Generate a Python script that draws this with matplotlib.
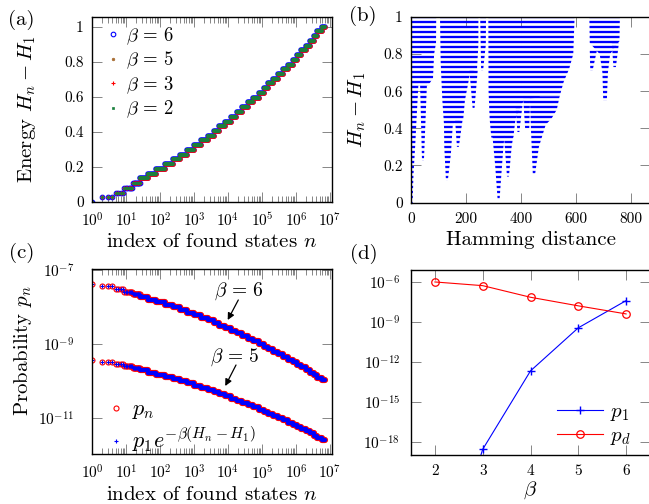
import numpy as np
import matplotlib
matplotlib.use("Agg")
import matplotlib.pyplot as plt
from matplotlib.collections import LineCollection
from matplotlib.patches import Polygon
import matplotlib.ticker as mticker

plt.rcParams.update({
    "font.family": "serif",
    "font.serif": ["cmr10"],
    "mathtext.fontset": "cm",
    "axes.unicode_minus": False,
    "axes.formatter.use_mathtext": True,
})

# ---------------- data ----------------
# discrete energy levels H_n - H_1 (one per step of the staircase)
energy_levels = [0.000, 0.027, 0.054, 0.081, 0.108, 0.135, 0.162, 0.189, 0.216, 0.243,
                 0.270, 0.297, 0.324, 0.351, 0.378, 0.405, 0.432, 0.459, 0.486, 0.514,
                 0.541, 0.568, 0.595, 0.622, 0.649, 0.676, 0.703, 0.730, 0.757, 0.784,
                 0.811, 0.838, 0.865, 0.892, 0.919, 0.946, 0.973, 1.000]
# log10 of the first state index n that has each energy level
step_log10_first = [0.00, 0.30, 0.70, 0.95, 1.20, 1.41, 1.65, 1.89, 2.14, 2.38,
                    2.59, 2.80, 3.01, 3.22, 3.40, 3.59, 3.75, 3.92, 4.09, 4.25,
                    4.42, 4.59, 4.75, 4.90, 5.05, 5.19, 5.33, 5.47, 5.62, 5.76,
                    5.90, 6.03, 6.16, 6.29, 6.40, 6.52, 6.63, 6.76]
log10_last_index = 6.86
betas_a = [6, 5, 3, 2]

# panel (d)
beta_d = [2, 3, 4, 5, 6]
p1_d = [1e-30, 2.8e-19, 2.2e-13, 3.8e-10, 4.2e-8]
pd_d = [1.06e-6, 5.6e-7, 7.5e-8, 1.7e-8, 4.2e-9]

# panel (c): betas shown
betas_c = [6, 5]

# panel (b): regions (Hamming distance, energy) where found states lie
basins_b = [
    [(-5, -0.05), (5, -0.05), (9, 0.15), (15, 0.3), (22, 0.5), (27, 0.64), (-5, 0.64)],
    [(40, 0.225), (47, 0.225), (58, 0.64), (33, 0.64)],
    [(-5, 0.63), (62, 0.63), (80, 0.67), (84, 0.8), (91, 0.86), (92, 1.05), (-5, 1.05)],
    [(127, 0.12), (134, 0.12), (145, 0.26), (152, 0.42), (120, 0.42), (121, 0.3)],
    [(167, 0.30), (174, 0.30), (188, 0.45), (160, 0.45)],
    [(120, 0.42), (152, 0.42), (190, 0.45), (196, 0.55), (205, 0.62), (215, 0.7), (240, 0.72),
     (245, 0.85), (245, 1.05), (105, 1.05), (108, 0.75), (114, 0.55)],
    [(224, 0.51), (231, 0.51), (243, 0.72), (212, 0.72)],
    [(255, 0.71), (262, 0.71), (272, 0.85), (273, 1.05), (251, 1.05)],
    [(315, 0.015), (322, 0.015), (330, 0.18), (336, 0.3), (340, 0.36), (296, 0.36), (306, 0.2)],
    [(349, 0.14), (356, 0.14), (366, 0.3), (372, 0.36), (338, 0.36)],
    [(387, 0.38), (394, 0.38), (405, 0.52), (380, 0.52)],
    [(415, 0.40), (430, 0.40), (433, 0.56), (408, 0.56)],
    [(292, 0.35), (372, 0.35), (380, 0.45), (395, 0.5), (410, 0.55), (470, 0.57), (540, 0.57),
     (555, 0.65), (575, 0.72), (590, 0.8), (596, 1.05), (281, 1.05), (282, 0.6), (286, 0.45)],
    [(443, 0.15), (451, 0.15), (465, 0.3), (490, 0.42), (510, 0.45), (530, 0.5), (540, 0.57),
     (432, 0.57), (436, 0.4)],
    [(699, 0.55), (712, 0.55), (716, 0.7), (724, 0.8), (758, 0.87), (760, 1.05), (648, 1.05),
     (650, 0.86), (686, 0.8), (696, 0.7)],
    [(652, 0.71), (660, 0.71), (676, 0.82), (650, 0.82)],
    [(736, 0.73), (745, 0.73), (756, 0.86), (730, 0.86)],
]

# ---------------- helpers ----------------
W, H = 649, 504
PT = 0.72  # points per pixel at 100 dpi
fig = plt.figure(figsize=(W / 100, H / 100), dpi=100)


def add_ax(l, t, r, b):
    return fig.add_axes([l / W, 1 - b / H, (r - l) / W, (b - t) / H])


TICK_C = "0.45"
LBL = 15
TL = 11


def style_ticks(ax):
    ax.tick_params(which="major", direction="in", top=True, right=True, length=7,
                   width=0.6, color=TICK_C, labelsize=TL)
    ax.tick_params(which="minor", direction="in", top=True, right=True, length=4.3,
                   width=0.6, color=TICK_C)
    for s in ax.spines.values():
        s.set_linewidth(1.0)
        s.set_color("black")


first_n = [int(round(10 ** b)) for b in step_log10_first]
last_n = [f - 1 for f in first_n[1:]] + [int(round(10 ** log10_last_index))]


def step_parts(values):
    """split the staircase into individual markers (small ranges) and segments"""
    pts_x, pts_y, segs = [], [], []
    for f, l, v in zip(first_n, last_n, values):
        if l - f < 12:
            for n in range(f, l + 1):
                pts_x.append(n)
                pts_y.append(v)
        else:
            segs.append([(f, v), (l, v)])
    return pts_x, pts_y, segs


# ---------------- panel (a) ----------------
axA = add_ax(92, 16.7, 331.7, 202)
styles_a = {
    6: dict(color="#0000ff", marker="o", mfc="none", ms=4.6 * PT, mew=0.8, seg=5.6),
    5: dict(color="#a66a2e", marker="o", mfc="#a66a2e", ms=2.6 * PT, mew=0.5, seg=3.0),
    3: dict(color="#ff0000", marker="+", mfc="none", ms=4.2 * PT, mew=0.8, seg=4.7),
    2: dict(color="#1a7f3c", marker="s", mfc="#1a7f3c", ms=2.8 * PT, mew=0.5, seg=4.1),
}
handles_a = []
px, py, segs = step_parts(energy_levels)
for b in betas_a:
    st = styles_a[b]
    lc = LineCollection(segs, colors=st["color"], linewidths=st["seg"] * PT, capstyle="round")
    axA.add_collection(lc)
    h, = axA.plot(px, py, linestyle="none", marker=st["marker"], color=st["color"],
                  mfc=st["mfc"], mec=st["color"], ms=st["ms"], mew=st["mew"],
                  label=r"$\beta\,=\,%d$" % b)
    handles_a.append(h)
axA.set_xscale("log")
axA.set_xlim(1, 10 ** 7.05)
axA.set_ylim(0, 1.057)
axA.set_xticks([10 ** k for k in range(8)], [r"$10^{%d}$" % k for k in range(8)])
axA.xaxis.set_minor_locator(mticker.LogLocator(base=10, subs=np.arange(2, 10), numticks=100))
axA.xaxis.set_minor_formatter(mticker.NullFormatter())
axA.set_yticks([0, 0.2, 0.4, 0.6, 0.8, 1.0], ["0", "0.2", "0.4", "0.6", "0.8", "1"])
style_ticks(axA)
axA.tick_params(axis="y", pad=6)
axA.tick_params(axis="x", pad=7)
axA.set_xlabel(r"index of found states $n$", fontsize=LBL)
axA.xaxis.set_label_coords(0.5, -0.165)
axA.set_ylabel(r"Energy $H_n - H_1$", fontsize=LBL)
axA.yaxis.set_label_coords(-0.225, 0.50)
axA.legend(handles=handles_a, loc="upper left", bbox_to_anchor=(0.0, 1.025), frameon=False,
           fontsize=13.5, handlelength=0.8, handletextpad=0.3, labelspacing=0.16,
           borderaxespad=0.3, markerscale=1.0)

# ---------------- panel (b) ----------------
axB = add_ax(411, 17, 650, 202.5)
row_segs = [[(-20, e), (900, e)] for e in energy_levels]
for poly in basins_b:
    patch = Polygon(poly, closed=True, transform=axB.transData)
    lc = LineCollection(row_segs, colors="#0000ff", linewidths=2.3 * PT, capstyle="butt")
    axB.add_collection(lc)
    lc.set_clip_path(patch)
axB.set_xlim(0, 869)
axB.set_ylim(0, 1)
axB.set_xticks([0, 200, 400, 600, 800], ["0", "200", "400", "600", "800"])
axB.set_yticks([0, 0.2, 0.4, 0.6, 0.8, 1.0], ["0", "0.2", "0.4", "0.6", "0.8", "1"])
style_ticks(axB)
axB.tick_params(axis="y", pad=6)
axB.tick_params(axis="x", pad=7)
axB.set_xlabel("Hamming distance", fontsize=LBL)
axB.xaxis.set_label_coords(0.5, -0.152)
axB.set_ylabel(r"$H_n - H_1$", fontsize=LBL)
axB.yaxis.set_label_coords(-0.18, 0.5)

# ---------------- panel (c) ----------------
axC = add_ax(92, 269, 331.7, 454.3)
p1_of_beta = dict(zip(beta_d, p1_d))
h_pn = h_fit = None
for b in betas_c:
    vals = [p1_of_beta[b] * np.exp(-b * e) for e in energy_levels]
    px, py, segs = step_parts(vals)
    lc = LineCollection(segs, colors="#ff0000", linewidths=6.2 * PT, capstyle="round")
    axC.add_collection(lc)
    h1, = axC.plot(px, py, linestyle="none", marker="o", mfc="none", mec="#ff0000",
                   ms=5.0 * PT, mew=0.8, label=r"$p_n$")
    lc2 = LineCollection(segs, colors="#0000ff", linewidths=4.2 * PT, capstyle="round")
    axC.add_collection(lc2)
    h2, = axC.plot(px, py, linestyle="none", marker="+", color="#0000ff",
                   ms=4.0 * PT, mew=0.8, label=r"$p_1e^{-\beta(H_n-H_1)}$")
    h_pn, h_fit = h1, h2
axC.set_xscale("log")
axC.set_yscale("log")
axC.set_xlim(1, 10 ** 7.05)
axC.set_ylim(1.05e-12, 1.06e-7)
axC.set_xticks([10 ** k for k in range(8)], [r"$10^{%d}$" % k for k in range(8)])
axC.xaxis.set_minor_locator(mticker.LogLocator(base=10, subs=np.arange(2, 10), numticks=100))
axC.xaxis.set_minor_formatter(mticker.NullFormatter())
axC.set_yticks([1e-11, 1e-9, 1e-7], [r"$10^{-11}$", r"$10^{-9}$", r"$10^{-7}$"])
axC.yaxis.set_minor_locator(mticker.NullLocator())
style_ticks(axC)
axC.tick_params(axis="y", pad=13)
axC.tick_params(axis="x", pad=7)
axC.set_xlabel(r"index of found states $n$", fontsize=LBL)
axC.xaxis.set_label_coords(0.5, -0.172)
axC.set_ylabel(r"Probability $p_n$", fontsize=LBL)
axC.yaxis.set_label_coords(-0.24, 0.56)
axC.legend(handles=[h_pn, h_fit], loc="lower left", bbox_to_anchor=(0.0, -0.085), frameon=False,
           fontsize=16, handlelength=0.8, handletextpad=0.3, labelspacing=0.2,
           borderaxespad=0.3)
# annotations: text and arrows
axC.text(2.02e4, 2.59e-8, r"$\beta\,=\,6$", fontsize=14, ha="center", va="center")
axC.annotate("", xy=(9.8e3, 4.45e-9), xytext=(2.01e4, 1.545e-8),
             arrowprops=dict(arrowstyle="-|>", color="k", lw=0.9, mutation_scale=10,
                             shrinkA=0, shrinkB=0))
axC.text(1.61e4, 4.46e-10, r"$\beta\,=\,5$", fontsize=14, ha="center", va="center")
axC.annotate("", xy=(8.3e3, 7.33e-11), xytext=(1.72e4, 2.71e-10),
             arrowprops=dict(arrowstyle="-|>", color="k", lw=0.9, mutation_scale=10,
                             shrinkA=0, shrinkB=0))

# ---------------- panel (d) ----------------
axD = add_ax(411, 270, 650, 455)
axD.plot(beta_d, p1_d, color="#0000ff", lw=0.8, marker="+", ms=8 * PT, mew=1.0, label=r"$p_1$")
axD.plot(beta_d, pd_d, color="#ff0000", lw=0.8, marker="o", mfc="none", ms=7.5 * PT, mew=0.9,
         label=r"$p_d$")
axD.set_yscale("log")
axD.set_xlim(1.5, 6.5)
axD.set_ylim(1.05e-19, 8.4e-6)
axD.set_xticks([2, 3, 4, 5, 6], ["2", "3", "4", "5", "6"])
axD.set_yticks([1e-18, 1e-15, 1e-12, 1e-9, 1e-6],
               [r"$10^{-18}$", r"$10^{-15}$", r"$10^{-12}$", r"$10^{-9}$", r"$10^{-6}$"])
axD.yaxis.set_minor_locator(mticker.NullLocator())
style_ticks(axD)
axD.tick_params(axis="y", pad=8)
axD.tick_params(axis="x", pad=7)
axD.set_xlabel(r"$\beta$", fontsize=LBL)
axD.xaxis.set_label_coords(0.5, -0.13)
axD.legend(loc="lower right", bbox_to_anchor=(0.98, -0.035), frameon=False, fontsize=15,
           handlelength=2.2, handletextpad=0.35, labelspacing=0.15, borderaxespad=0.3)

# ---------------- panel letters ----------------
for txt, x, y in [("(a)", 21.7, 20), ("(b)", 363, 16), ("(c)", 21.5, 253), ("(d)", 363.5, 254)]:
    fig.text(x / W, 1 - y / H, txt, fontsize=LBL, ha="center", va="center")

fig.savefig("out.png", dpi=100)
